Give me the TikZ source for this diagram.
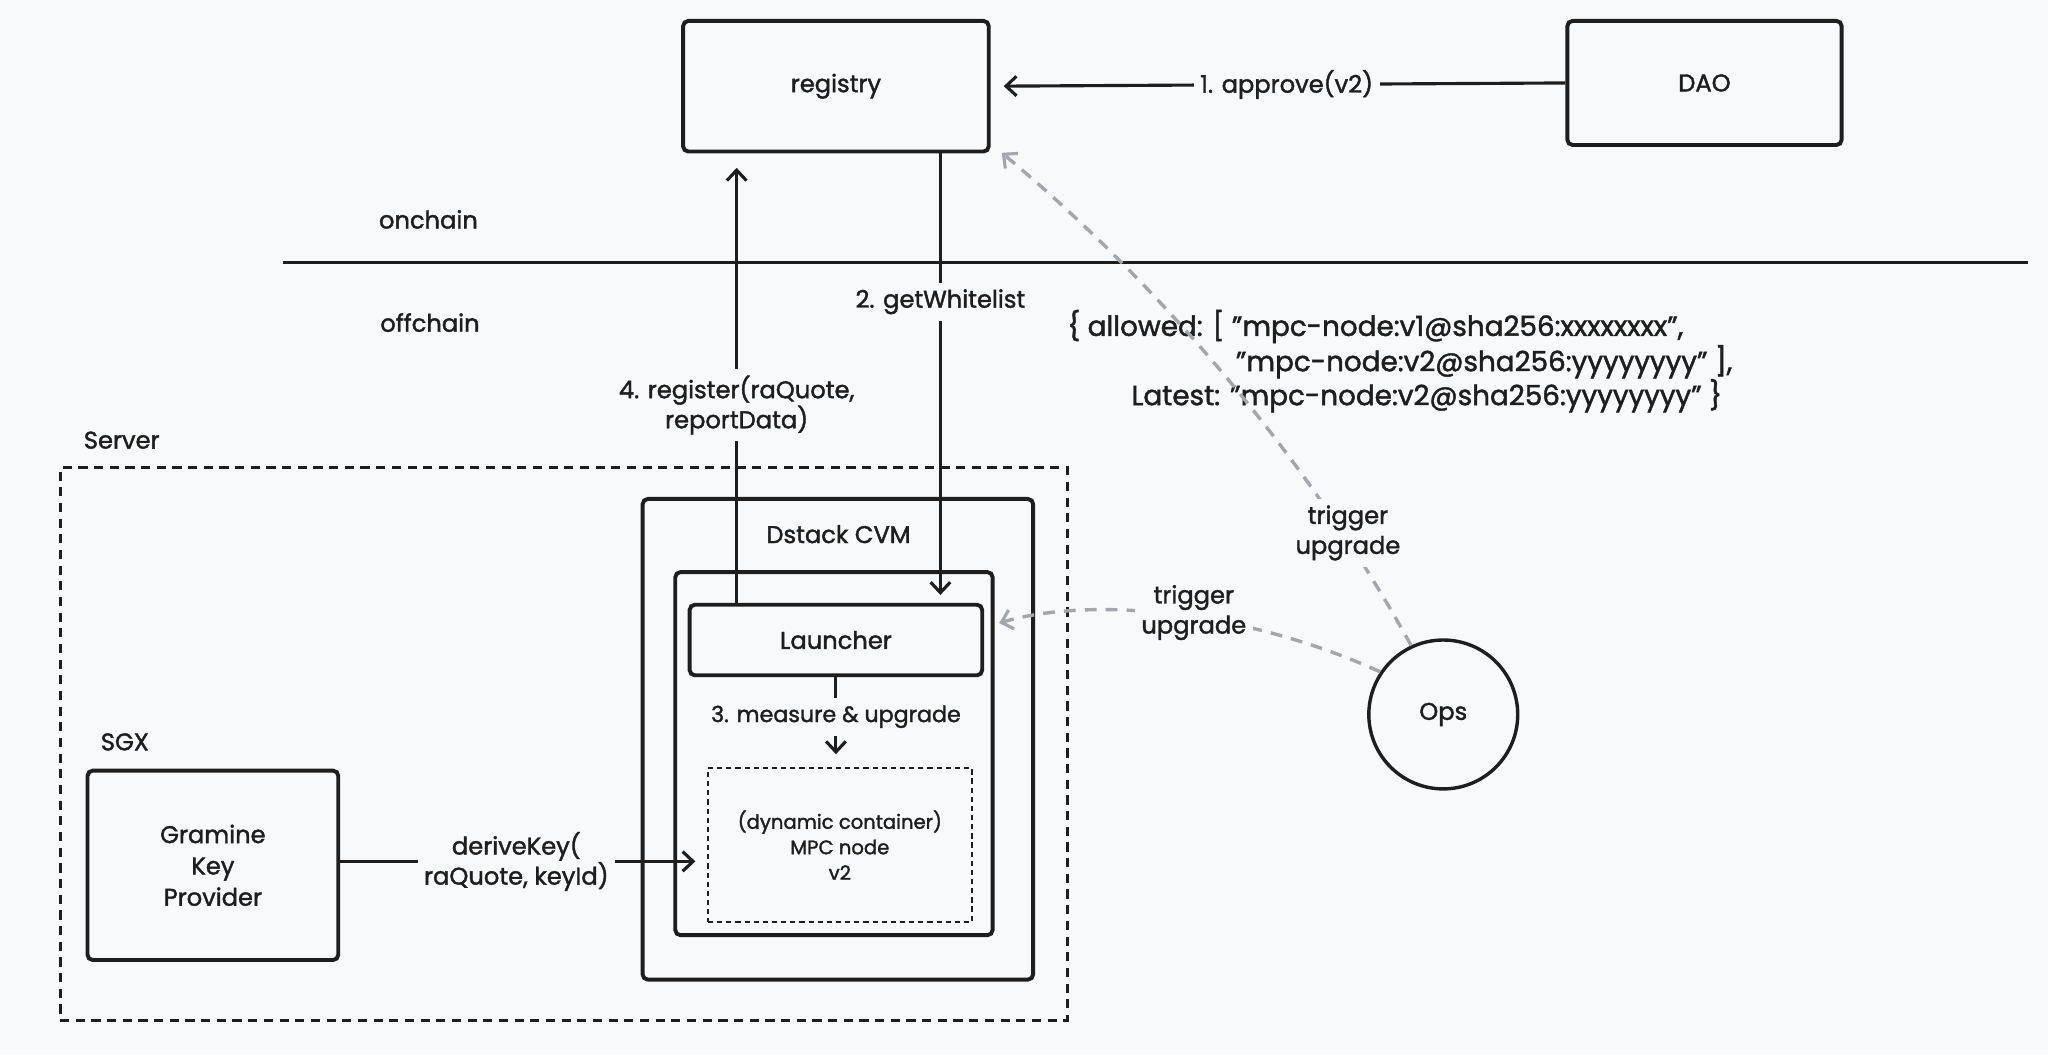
\documentclass[tikz,border=0pt]{standalone}
\usepackage{fontspec}
\setmainfont{Poppins}[FakeBold=1.6]
\usetikzlibrary{arrows.meta,calc}
\definecolor{bg}{HTML}{F8F9FA}
\definecolor{ink}{HTML}{1E1E1E}
\definecolor{ghost}{HTML}{A3A7AB}
\begin{document}
\begin{tikzpicture}[x=1pt,y=-1pt,
  every node/.style={text=ink},
  tx/.style={font=\fontsize{18.5}{23}\selectfont, align=center, inner sep=0pt},
  box/.style={draw=ink, line width=3pt, rounded corners=4pt, tx},
  lbl/.style={tx, fill=bg, inner sep=5pt},
  plain/.style={tx, anchor=west},
  conn/.style={draw=ink, line width=2.4pt, -{Straight Barb[length=8pt,width=15pt,line width=2.4pt]}},
  trig/.style={draw=ghost, line width=2.6pt, dash pattern=on 9pt off 7pt, -{Straight Barb[length=8pt,width=15pt,line width=2.4pt]}},
  json/.style={font=\fontsize{21.3}{26}\selectfont, inner sep=0pt, anchor=west},
]
\useasboundingbox[fill=bg] (0,0) rectangle (1568,807);

% boxes
\node[box, minimum width=234, minimum height=100] (registry) at (640,66) {\raisebox{-2pt}{registry}};
\node[box, minimum width=210, minimum height=95] (dao) at (1305,63.5) {DAO};
\node[draw=ink, line width=2.2pt, dash pattern=on 7pt off 5pt, minimum width=771, minimum height=423, inner sep=0pt] (server) at (431.5,569.5) {};
\node[box, minimum width=299, minimum height=368] (cvm) at (641.5,566) {};
\node[box, minimum width=243, minimum height=278] (inner) at (638.5,577) {};
\node[box, minimum width=224, minimum height=54] (launcher) at (640,490) {Launcher};
\node[draw=ink, line width=1.2pt, dash pattern=on 4pt off 3pt, minimum width=202, minimum height=118, inner sep=0pt, align=center, font=\fontsize{15}{19.5}\selectfont] (container) at (643,647) {(dynamic container)\\MPC node\\v2};
\node[box, minimum width=192, minimum height=145, font=\fontsize{18.5}{24}\selectfont] (gramine) at (163,662.5) {Gramine\\Key\\Provider};
\node[draw=ink, line width=2.6pt, circle, minimum size=114, tx] (ops) at (1105,547) {Ops};

% plain labels
\node[plain] (onchain) at (290,168) {onchain};
\node[plain] (offchain) at (291,247) {offchain};
\node[plain] (serverlbl) at (64,337) {Server};
\node[plain] (sgxlbl) at (77,568) {SGX};
\node[tx] (cvmlbl) at (642,409) {Dstack CVM};

% on/off chain divider
\draw[ink, line width=2.2pt] (217,201) -- (1553,201);

% json
\node[json] (json1) at (817,250) {\{ allowed: [ "mpc-node:v1@sha256:xxxxxxxx",};
\node[json] (json2) at (946,277) {"mpc-node:v2@sha256:yyyyyyyy" ],};
\node[json] (json3) at (866,303) {Latest: "mpc-node:v2@sha256:yyyyyyyy" \}};

% connectors
\draw[conn, shorten >=10pt] (dao.west) -- node[lbl, pos=0.485] (l1) {1. approve(v2)} (registry.east);
\draw[conn, shorten >=6pt] ([xshift=80pt]registry.south) -- node[lbl, pos=0.33] (l2) {2. getWhitelist} ([xshift=80pt]launcher.north);
\draw[conn, shorten >=11pt] ([xshift=-76pt]launcher.north) -- node[lbl, pos=0.44] (l4) {4. register(raQuote,\\reportData)} ([xshift=-76pt]registry.south);
\draw[conn, shorten >=10pt] (launcher.south) -- node[lbl, pos=0.44, inner sep=6pt, font=\fontsize{17}{23}\selectfont] (l3) {3. measure \& upgrade} (launcher.south |- container.north);
\draw[conn, shorten >=9pt] ([yshift=3pt]gramine.east) -- node[lbl, pos=0.48] (ldk) {deriveKey(\\raQuote, keyId)} ([yshift=3pt]gramine.east -| container.west);

% trigger upgrades
\coordinate (t1end) at (767,117);
\coordinate (t2end) at (765,477);
\draw[trig] (ops.115) .. controls (1001,350) and (887,217) .. (t1end);
\draw[trig] (ops.146) .. controls (960,470) and (840,455) .. (t2end);
\node[lbl] (lt1) at (1032,408) {trigger\\upgrade};
\node[lbl] (lt2) at (914,469) {trigger\\upgrade};
\end{tikzpicture}
\end{document}
